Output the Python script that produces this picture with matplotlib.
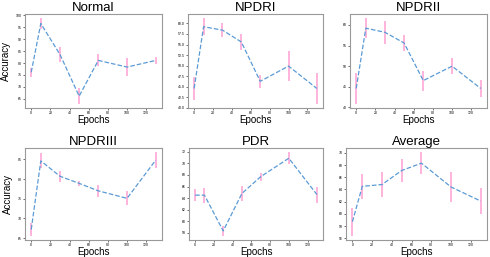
import numpy as np
import matplotlib
matplotlib.use('Agg')
import matplotlib.pyplot as plt
import matplotlib.ticker as ticker

plt.rcParams['font.family'] = ['Liberation Sans', 'DejaVu Sans']

# Epochs on the x axis (same for every panel)
epochs = [0, 10, 30, 50, 70, 100, 130]

# Mean accuracy and spread per dataset
normal = [76.1, 96.6, 83.6, 66.1, 81.1, 78.3, 81.1]
normal_err = [2.0, 2.2, 3.3, 3.2, 2.5, 3.8, 1.4]

npdr1 = [44.6, 59.2, 58.4, 55.6, 46.3, 49.9, 44.6]
npdr1_err = [2.7, 2.0, 1.6, 1.9, 1.6, 3.6, 3.6]

npdr2 = [44.6, 59.2, 58.2, 55.6, 46.5, 50.0, 44.6]
npdr2_err = [3.7, 2.4, 2.8, 2.0, 2.4, 1.9, 2.1]

npdr3 = [67.2, 84.6, 80.7, 78.9, 77.0, 75.1, 84.8]
npdr3_err = [1.6, 1.9, 1.4, 0.7, 1.6, 1.8, 2.0]

pdr = [64.5, 64.5, 58.3, 64.8, 67.7, 70.9, 64.6]
pdr_err = [1.05, 1.3, 0.85, 1.3, 0.7, 1.05, 1.4]

average = [58.7, 64.5, 64.8, 67.1, 68.3, 64.4, 62.1]
average_err = [2.3, 2.0, 2.1, 1.9, 1.8, 2.5, 2.1]

panels = [
    ('Normal', normal, normal_err),
    ('NPDRI', npdr1, npdr1_err),
    ('NPDRII', npdr2, npdr2_err),
    ('NPDRIII', npdr3, npdr3_err),
    ('PDR', pdr, pdr_err),
    ('Average', average, average_err),
]

W, H = 490, 257
# axes boxes in pixels: left, top, right, bottom
boxes = [
    (25, 14, 162, 108), (188, 14, 323, 108), (350, 14, 487, 108),
    (25, 148, 162, 240), (189, 148, 323, 240), (346, 148, 487, 240),
]

fig = plt.figure(figsize=(W / 100, H / 100), dpi=100)
axes = []

for i, ((name, vals, errs), (l, t, r, b)) in enumerate(zip(panels, boxes)):
    ax = fig.add_axes([l / W, 1 - b / H, (r - l) / W, (b - t) / H])
    ax.errorbar(epochs, vals, yerr=errs, fmt='none', ecolor='#ff9ad0',
                elinewidth=1.4, alpha=0.75, capsize=0)
    ax.plot(epochs, vals, linestyle='--', color='#5b9bd5', linewidth=0.9)
    ax.set_title(name, fontsize=9.5, pad=1.5)
    ax.set_xlabel('Epochs', fontsize=7, labelpad=0)
    if i % 3 == 0:
        ax.set_ylabel('Accuracy', fontsize=7, labelpad=3)
    ax.set_xticks(range(0, 121, 20))
    ax.tick_params(labelsize=2.5, length=1.5, width=0.4, pad=1)
    for s in ax.spines.values():
        s.set_color('#999999')
        s.set_linewidth(0.8)
    axes.append(ax)

# tick spacing like the original panels
axes[1].set_yticks(np.arange(40, 60.1, 2.5))
axes[1].yaxis.set_major_formatter(ticker.FormatStrFormatter('%.1f'))
axes[4].set_yticks(range(58, 73, 2))
axes[5].set_yticks(range(56, 71, 2))

fig.savefig('out.png', dpi=100)
